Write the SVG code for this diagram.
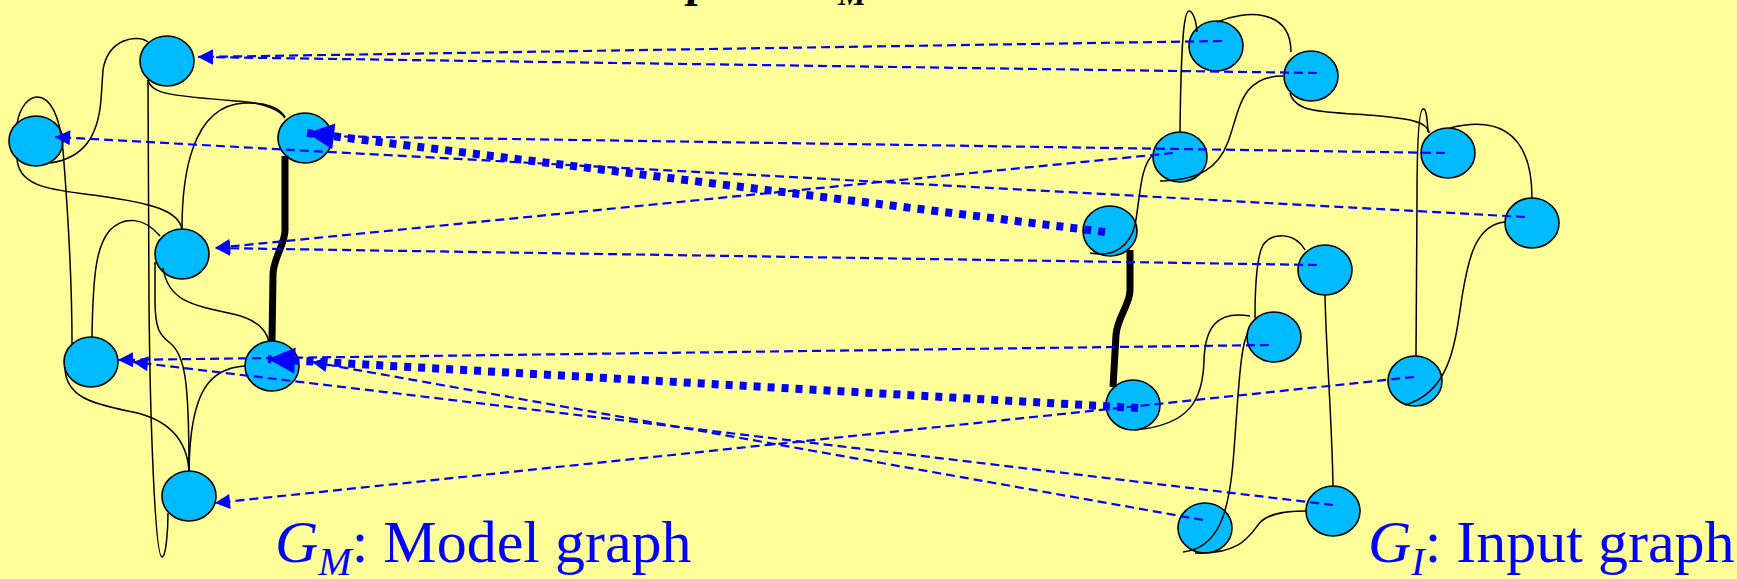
<svg xmlns="http://www.w3.org/2000/svg" width="1737" height="579" viewBox="0 0 1737 579">
<style>
.node{fill:#00BBFF;stroke:#000;stroke-width:1.6}
.edge{fill:none;stroke:#000;stroke-width:1.5}
.thick{fill:none;stroke:#000;stroke-width:7}
.map{fill:none;stroke:#0000FF;stroke-width:2.2;stroke-dasharray:9 5;marker-end:url(#ah)}
.bigmap{fill:none;stroke:#0000FF;stroke-width:8;stroke-dasharray:7 7;marker-end:url(#bah)}
.lbl{font-family:"Liberation Serif","Times New Roman",serif;fill:#0000FF;font-size:60px}
.ttl{font-family:"Liberation Serif","Times New Roman",serif;fill:#000;font-style:italic;font-weight:bold}
</style>
<defs>
<marker id="ah" markerUnits="userSpaceOnUse" orient="auto" refX="0" refY="0" overflow="visible"><path d="M0,0 L-15,-7.5 L-15,7.5 Z" fill="#0000FF"/></marker>
<marker id="bah" markerUnits="userSpaceOnUse" orient="auto" refX="0" refY="0" overflow="visible"><path d="M0,0 L-27,-13 L-27,13 Z" fill="#0000FF"/></marker>
</defs>
<rect x="0" y="0" width="1737" height="579" fill="#FFFF99"/>
<text class="ttl" x="688" y="-4" font-size="48">p</text>
<text class="ttl" x="838" y="5" font-size="32">M</text>

<g id="nodeA"><ellipse class="node" cx="167" cy="61" rx="27" ry="25"/></g>
<g id="nodeB"><ellipse class="node" cx="36" cy="141" rx="27" ry="25"/></g>
<g id="nodeC"><ellipse class="node" cx="305" cy="138" rx="27" ry="25"/></g>
<g id="nodeD"><ellipse class="node" cx="182" cy="254" rx="27" ry="25"/></g>
<g id="nodeE"><ellipse class="node" cx="91" cy="362" rx="27" ry="25"/></g>
<g id="nodeF"><ellipse class="node" cx="272" cy="366" rx="27" ry="25"/></g>
<g id="nodeG"><ellipse class="node" cx="189" cy="496" rx="27" ry="25"/></g>
<g id="nodeH"><ellipse class="node" cx="1216" cy="46" rx="27" ry="25"/></g>
<g id="nodeI"><ellipse class="node" cx="1311" cy="76" rx="27" ry="25"/></g>
<g id="nodeJ"><ellipse class="node" cx="1180" cy="157" rx="27" ry="25"/></g>
<g id="nodeK"><ellipse class="node" cx="1448" cy="153" rx="27" ry="25"/></g>
<g id="nodeL"><ellipse class="node" cx="1110" cy="231" rx="27" ry="25"/></g>
<g id="nodeM"><ellipse class="node" cx="1325" cy="270" rx="27" ry="25"/></g>
<g id="nodeN"><ellipse class="node" cx="1532" cy="223" rx="27" ry="25"/></g>
<g id="nodeO"><ellipse class="node" cx="1274" cy="337" rx="27" ry="25"/></g>
<g id="nodeP"><ellipse class="node" cx="1133" cy="405" rx="27" ry="25"/></g>
<g id="nodeQ"><ellipse class="node" cx="1415" cy="381" rx="27" ry="25"/></g>
<g id="nodeR"><ellipse class="node" cx="1205" cy="528" rx="27" ry="25"/></g>
<g id="nodeS"><ellipse class="node" cx="1333" cy="511" rx="27" ry="25"/></g>

<g id="connectors">
<path class="edge" d="M148,42 C138,34 108,38 103,70 L101,100 C98,135 85,158 50,163"/>
<path class="edge" d="M148,80 C152,95 175,96 247,102 C265,104 280,110 285,118"/>
<path class="edge" d="M148,80 L149,300 C150,420 155,557 162,557 C166,557 168,530 168,513"/>
<path class="edge" d="M17,124 C20,105 30,97 37,97 C50,97 60,115 63,150 C67,200 72,280 72,344"/>
<path class="edge" d="M17,157 C17,190 60,190 100,196 C150,203 178,210 182,229"/>
<path class="edge" d="M182,229 C182,180 190,105 245,103 C265,102 280,108 285,117"/>
<path class="edge" d="M160,236 C145,218 125,215 110,230 C97,245 93,270 92,337"/>
<path class="edge" d="M155,262 L155,300 C155,330 160,335 170,343 C185,355 189,380 189,471"/>
<path class="edge" d="M163,268 C168,300 190,305 233,314 C255,319 266,328 269,342"/>
<path class="edge" d="M65,367 C65,400 100,405 133,412 C170,420 187,440 189,471"/>
<path class="edge" d="M245,366 C210,368 190,390 189,471"/>
<path class="thick" d="M285,156 L285,230 C285,245 273,258 273,275 L272,342"/>
<path class="edge" d="M1217,22 C1245,10 1291,8 1291,52"/>
<path class="edge" d="M1197,32 C1196,18 1192,11 1189,11 C1184,11 1181,40 1180,132"/>
<path class="edge" d="M1283,76 C1240,76 1240,110 1228,142 C1218,168 1200,180 1160,181"/>
<path class="edge" d="M1290,93 C1295,112 1320,112 1367,115 C1410,118 1428,122 1429,133"/>
<path class="edge" d="M1428,132 C1427,112 1425,108 1423,109 C1419,110 1417,140 1417,200 L1416,356"/>
<path class="edge" d="M1450,128 C1490,118 1532,125 1532,198"/>
<path class="edge" d="M1505,222 C1475,225 1468,260 1462,297 C1455,345 1450,392 1405,405"/>
<path class="edge" d="M1153,155 C1140,165 1140,200 1135,225 C1130,245 1115,258 1090,253"/>
<path class="thick" d="M1130,250 L1130,290 C1130,305 1117,318 1116,335 L1113,387"/>
<path class="edge" d="M1305,250 C1295,232 1272,232 1263,245 C1256,258 1255,290 1255,318"/>
<path class="edge" d="M1250,316 C1215,310 1205,330 1204,360 C1203,400 1190,425 1135,430"/>
<path class="edge" d="M1248,333 C1240,345 1238,400 1234,450 C1230,510 1220,548 1183,552"/>
<path class="edge" d="M1195,553 C1240,555 1250,535 1258,525 C1265,515 1280,511 1306,511"/>
<path class="edge" d="M1325,295 C1326,350 1332,420 1333,486"/>
<path class="map" d="M1222,41 L198,57"/>
<path class="map" d="M1317,73 L198,57"/>
<path class="map" d="M1445,153 L312,136"/>
<path class="map" d="M1525,217 L55,137"/>
<path class="map" d="M1173,153 L215,248"/>
<path class="map" d="M1317,265 L215,248"/>
<path class="map" d="M1269,345 L118,360"/>
<path class="map" d="M1333,505 L133,362"/>
<path class="map" d="M1203,520 L312,362"/>
<path class="map" d="M1414,377 L215,503"/>
<path class="bigmap" d="M1105,232 L307,133"/>
<path class="bigmap" d="M1138,408 L268,359"/>
</g>

<text class="lbl" x="275" y="562"><tspan font-style="italic">G</tspan><tspan font-style="italic" font-size="40" dy="13">M</tspan><tspan dy="-13">: Model graph</tspan></text>
<text class="lbl" x="1368" y="562"><tspan font-style="italic">G</tspan><tspan font-style="italic" font-size="40" dy="13">I</tspan><tspan dy="-13">: Input graph</tspan></text>
</svg>
